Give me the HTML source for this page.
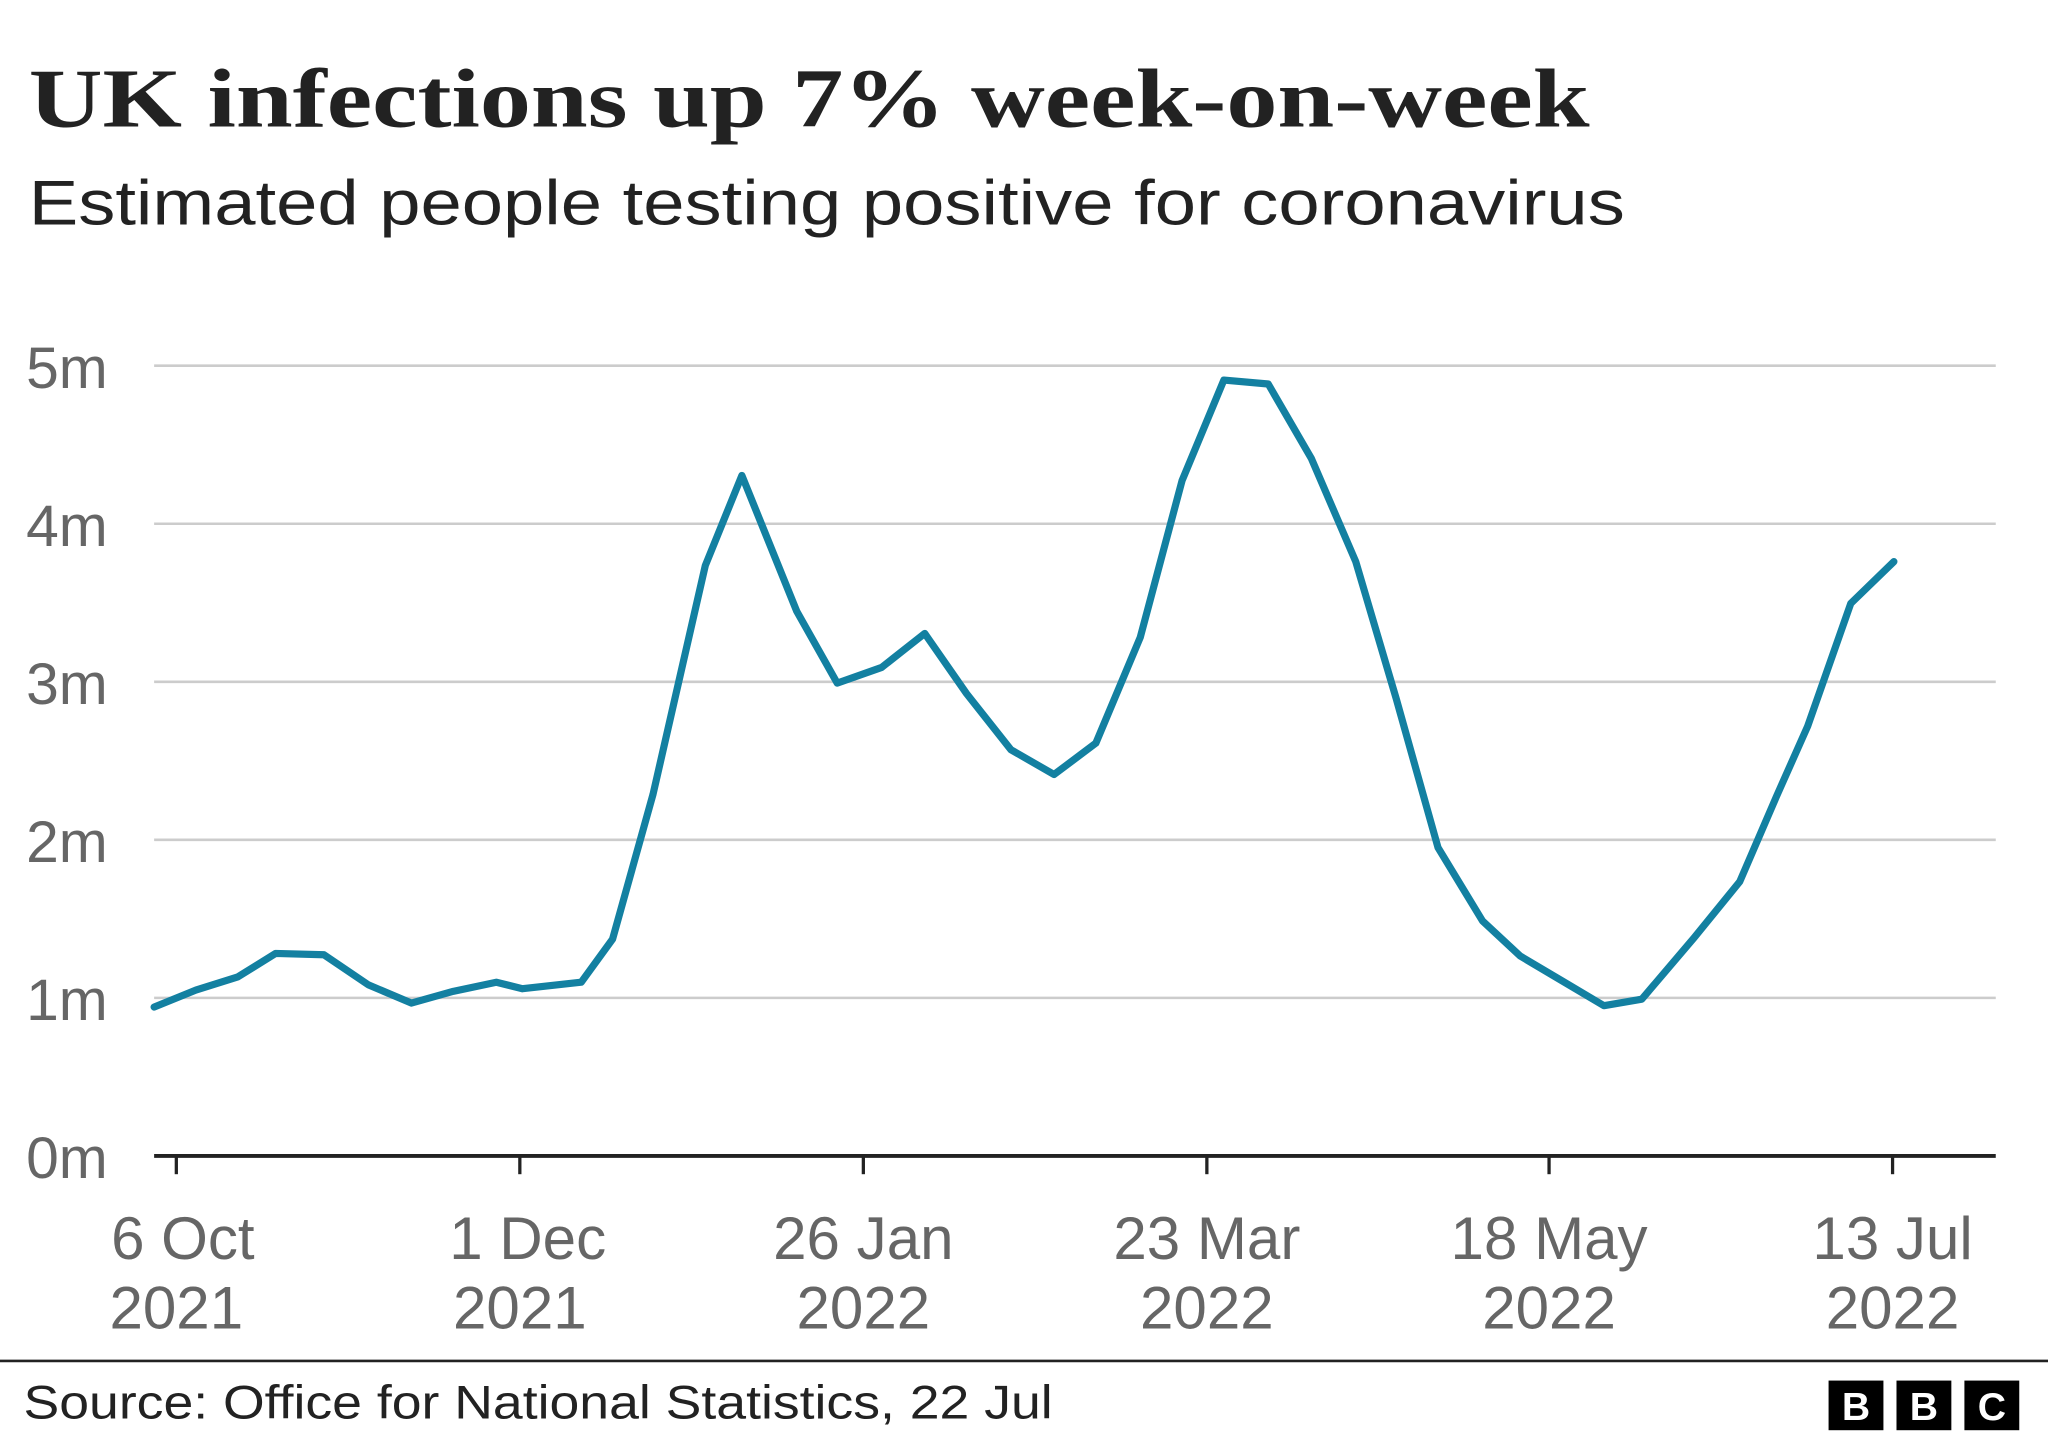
<!DOCTYPE html>
<html><head><meta charset="utf-8"><style>html,body{margin:0;padding:0;background:#fff}svg{display:block}</style></head>
<body>
<svg width="2048" height="1440" viewBox="0 0 1568 1102.5" xmlns="http://www.w3.org/2000/svg">
<rect width="1568" height="1102.5" fill="#fff"/>
<text x="22" y="97" font-family="Liberation Serif, serif" font-weight="bold" font-size="64" fill="#222" textLength="1195" lengthAdjust="spacingAndGlyphs">UK infections up 7% week-on-week</text>
<text x="22" y="172" font-family="Liberation Sans, sans-serif" font-size="48" fill="#222" textLength="1222" lengthAdjust="spacingAndGlyphs">Estimated people testing positive for coronavirus</text>
<g stroke="#cccccc" stroke-width="2">
<line x1="118" y1="280" x2="1528" y2="280"/><line x1="118" y1="401" x2="1528" y2="401"/><line x1="118" y1="522" x2="1528" y2="522"/><line x1="118" y1="643" x2="1528" y2="643"/><line x1="118" y1="764" x2="1528" y2="764"/>
</g>
<g font-family="Liberation Sans, sans-serif" font-size="45" fill="#666">
<text x="20" y="297">5m</text><text x="20" y="418">4m</text><text x="20" y="539">3m</text><text x="20" y="660">2m</text><text x="20" y="781">1m</text><text x="20" y="902">0m</text>
</g>
<line x1="118" y1="885" x2="1528" y2="885" stroke="#222" stroke-width="3"/>
<g stroke="#222" stroke-width="2.5">
<line x1="135" y1="885" x2="135" y2="899"/><line x1="398" y1="885" x2="398" y2="899"/><line x1="661" y1="885" x2="661" y2="899"/><line x1="924" y1="885" x2="924" y2="899"/><line x1="1186" y1="885" x2="1186" y2="899"/><line x1="1449" y1="885" x2="1449" y2="899"/>
</g>
<g font-family="Liberation Sans, sans-serif" font-size="46" fill="#666" text-anchor="middle">
<text x="140" y="964">6 Oct</text><text x="135" y="1017">2021</text>
<text x="404" y="964">1 Dec</text><text x="398" y="1017">2021</text>
<text x="661" y="964">26 Jan</text><text x="661" y="1017">2022</text>
<text x="924" y="964">23 Mar</text><text x="924" y="1017">2022</text>
<text x="1186" y="964">18 May</text><text x="1186" y="1017">2022</text>
<text x="1449" y="964">13 Jul</text><text x="1449" y="1017">2022</text>
</g>
<polyline fill="none" stroke="#1380A1" stroke-width="5.5" stroke-linejoin="round" stroke-linecap="round" points="118,771 150,758 182,748 211,730 248,731 282,754 315,768 347,759 380,752 400,757 445,752 469,719 500,608 540,433 568,364 610,468 641,523 675,511 708,485 740,531 774,574 807,593 839,569 873,488 905,368 937,291 971,294 1004,351 1038,430 1069,535 1101,649 1135,705 1164,732 1196,751 1228,770 1257,765 1297,718 1332,675 1360,610 1384,556 1417,462 1450,430"/>
<line x1="0" y1="1042" x2="1568" y2="1042" stroke="#222" stroke-width="2"/>
<text x="18" y="1086" font-family="Liberation Sans, sans-serif" font-size="36" fill="#222" textLength="788" lengthAdjust="spacingAndGlyphs">Source: Office for National Statistics, 22 Jul</text>
<g><rect x="1400" y="1057" width="42" height="38" fill="#000"/><rect x="1452" y="1057" width="42" height="38" fill="#000"/><rect x="1504" y="1057" width="42" height="38" fill="#000"/></g>
<g font-family="Liberation Sans, sans-serif" font-weight="bold" font-size="30" fill="#fff" text-anchor="middle">
<text x="1421" y="1087">B</text><text x="1473" y="1087">B</text><text x="1525" y="1087">C</text>
</g>
</svg>
</body></html>
